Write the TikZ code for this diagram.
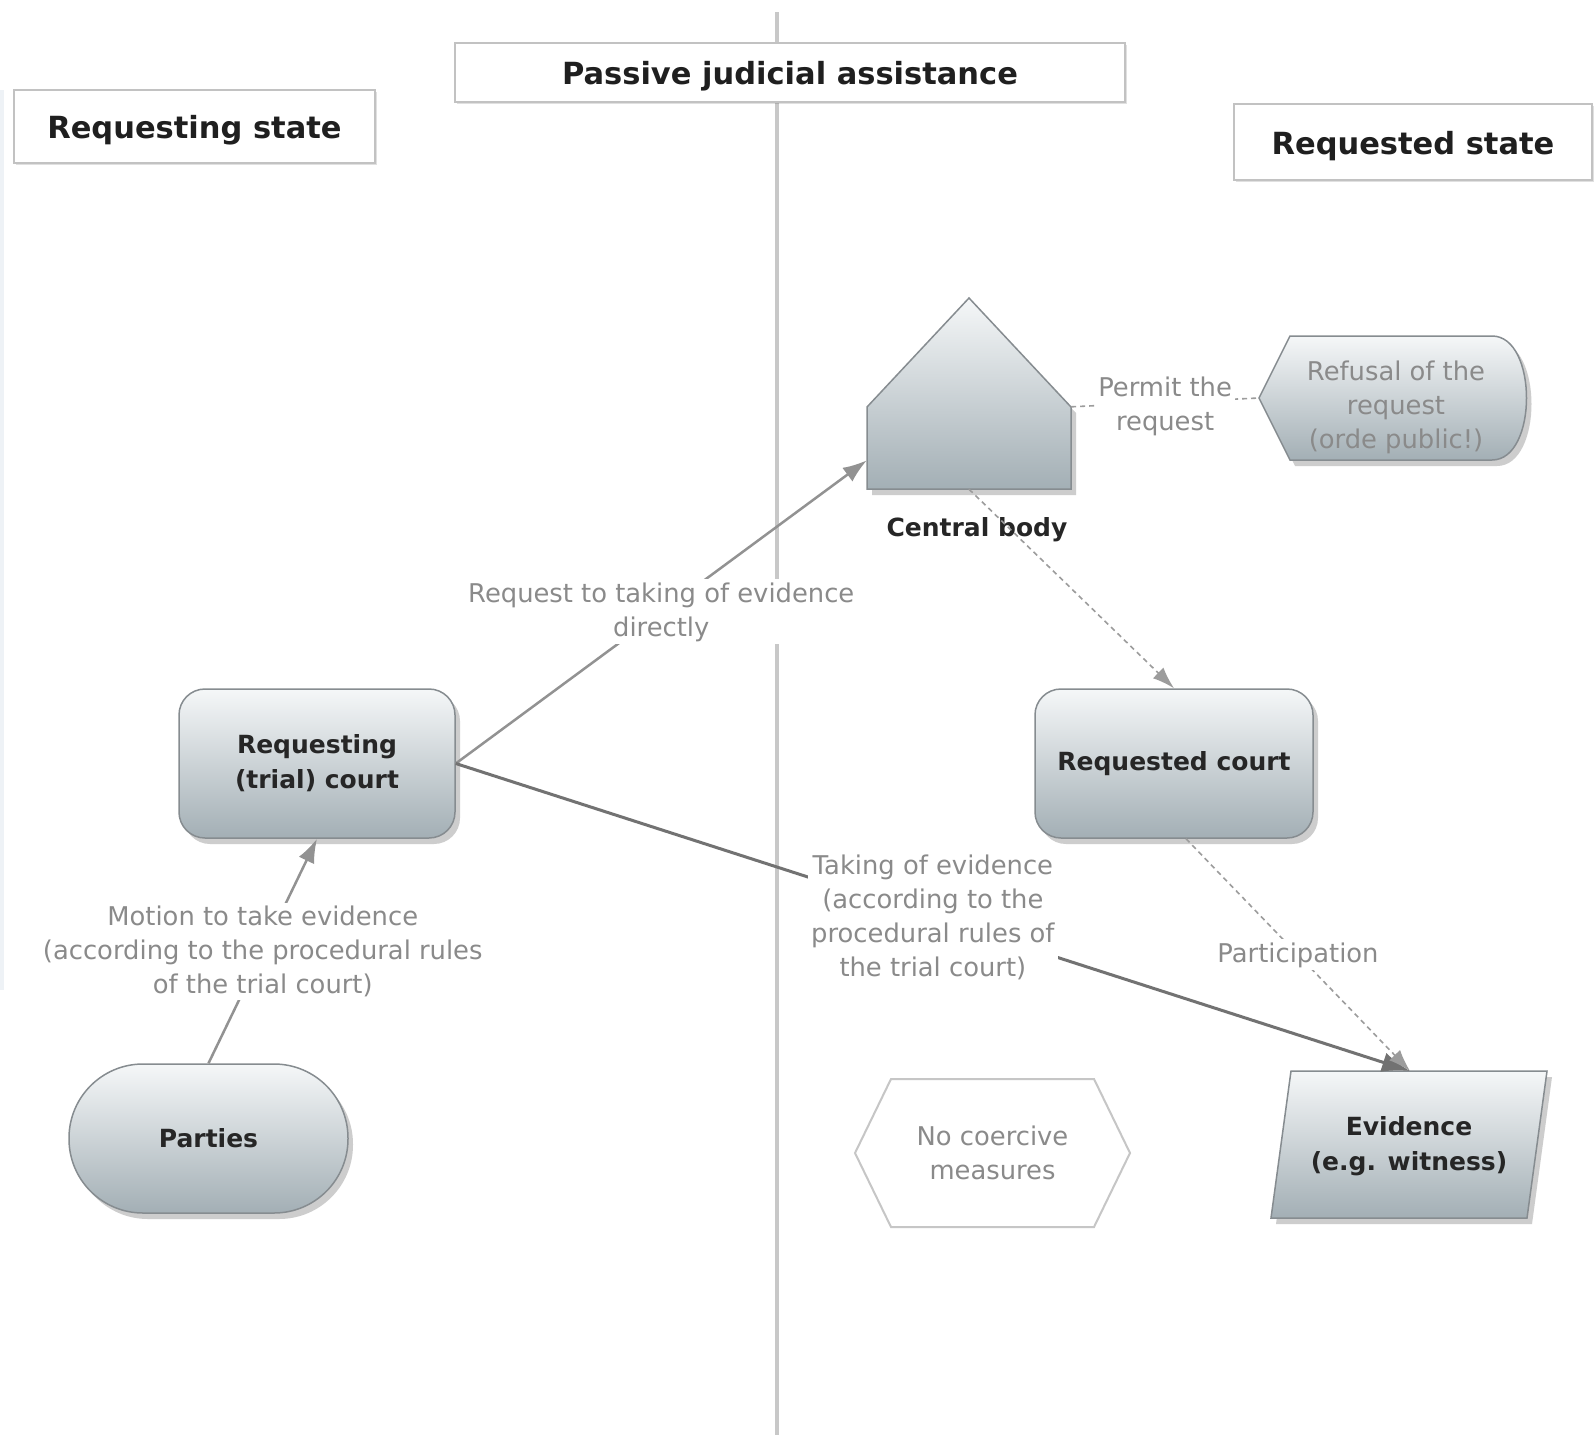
\documentclass[tikz,border=0pt]{standalone}
\usepackage{fontspec}
\setmainfont{DejaVu Sans}
\usetikzlibrary{arrows.meta,shadows,calc}
\definecolor{gTop}{HTML}{F5F7F8}
\definecolor{gBot}{HTML}{A3AFB5}
\definecolor{bordC}{HTML}{868C90}
\definecolor{hdrC}{HTML}{C2C2C2}
\definecolor{labC}{HTML}{8A8A8A}
\definecolor{lineC}{HTML}{929292}
\definecolor{darkC}{HTML}{727272}
\definecolor{dashC}{HTML}{9C9C9C}
\definecolor{divC}{HTML}{C8C8C8}
\definecolor{hexC}{HTML}{C6C6C6}
\definecolor{stripC}{HTML}{EEF2F6}
\newcommand{\lowr}[1]{\raisebox{-4pt}[\height][\depth]{#1}}
\tikzset{
  hdr/.style={draw=hdrC, line width=2.5pt, fill=white, inner sep=0pt, text=black!88,
    font=\fontsize{30.5}{38}\selectfont\bfseries,
    drop shadow={shadow xshift=2pt, shadow yshift=-2pt, opacity=0.12, fill=black}},
  gshade/.style={top color=gTop, bottom color=gBot, draw=bordC, line width=1.5pt,
    drop shadow={shadow xshift=5pt, shadow yshift=-6pt, opacity=0.28, fill=black!70}},
  nodelbl/.style={font=\fontsize{25}{35}\selectfont\bfseries, text=black!85, align=center, inner sep=0pt},
  greylbl/.style={font=\fontsize{25.8}{34}\selectfont, text=labC, align=center, inner sep=0pt},
  elbl/.style={greylbl, fill=white, inner sep=3pt},
  darr/.style={draw=lineC, line width=2.5pt, -{Latex[length=24pt,width=17pt]}},
  bigarr/.style={draw=darkC, line width=3pt, -{Latex[length=28pt,width=20pt]}},
  dsharr/.style={draw=dashC, line width=1.6pt, dash pattern=on 5pt off 4pt, -{Latex[length=22pt,width=15pt]}},
  dshline/.style={draw=dashC, line width=1.6pt, dash pattern=on 5pt off 4pt},
  divider/.style={draw=divC, line width=4pt},
}
\begin{document}
\begin{tikzpicture}[x=1pt,y=-1pt]
\useasboundingbox (0,0) rectangle (1596,1446);
\fill[white] (0,0) rectangle (1596,1446);
\fill[stripC] (0,90) rectangle (4,990);

% divider
\coordinate (vt) at (777,12);
\coordinate (vb) at (777,1435);
\draw[divider] (vt) -- (vb);

% headers
\node[hdr, minimum width=361pt, minimum height=73pt] (hL) at (194.5,126.5) {\lowr{Requesting state}};
\node[hdr, minimum width=670pt, minimum height=59pt] (hM) at (790,72.5) {\lowr{Passive judicial assistance}};
\node[hdr, minimum width=358pt, minimum height=76pt] (hR) at (1413,142) {\lowr{Requested state}};

% central body (house)
\coordinate (cbc) at (969,448);
\path[gshade] ($(cbc)+(-102,41)$) -- ($(cbc)+(-102,-41)$) -- ($(cbc)+(0,-150)$)
  -- ($(cbc)+(102,-41)$) -- ($(cbc)+(102,41)$) -- cycle;
\node[minimum width=204pt, minimum height=82pt, inner sep=0pt] (cb) at (cbc) {};
\node[nodelbl] (cbl) at (977,530) {Central body};

% refusal of the request
\coordinate (rfc) at (1396,398);
\path[gshade] ($(rfc)+(-137,0)$) -- ($(rfc)+(-106,-62)$) -- ($(rfc)+(96,-62)$)
  .. controls ($(rfc)+(142,-62)$) and ($(rfc)+(142,62)$) .. ($(rfc)+(96,62)$)
  -- ($(rfc)+(-106,62)$) -- cycle;
\node[greylbl] (rf) at ($(rfc)+(0,9)$) {Refusal of the\\request\\(orde public!)};
\coordinate (rfw) at ($(rfc)+(-137,0)$);

% requesting court, requested court, parties
\node[gshade, nodelbl, rounded corners=26pt, minimum width=276pt, minimum height=149pt]
  (rc) at (317,763.5) {Requesting\\(trial) court};
\node[gshade, nodelbl, rounded corners=26pt, minimum width=278pt, minimum height=149pt]
  (rq) at (1174,763.5) {Requested court};
\node[gshade, nodelbl, rounded corners=74pt, minimum width=279pt, minimum height=149pt]
  (pa) at (208.5,1138.5) {Parties};

% no coercive measures (hexagon)
\coordinate (ncc) at (992.5,1153);
\path[draw=hexC, line width=2pt, fill=white] ($(ncc)+(-137.5,0)$) -- ($(ncc)+(-101.5,-74)$)
  -- ($(ncc)+(101.5,-74)$) -- ($(ncc)+(137.5,0)$) -- ($(ncc)+(101.5,74)$)
  -- ($(ncc)+(-101.5,74)$) -- cycle;
\node[greylbl] (nc) at (ncc) {No coercive\\measures};

% evidence (parallelogram)
\coordinate (evc) at (1409,1144.5);
\path[gshade] ($(evc)+(-118,-73.5)$) -- ($(evc)+(138,-73.5)$) -- ($(evc)+(118,73.5)$)
  -- ($(evc)+(-138,73.5)$) -- cycle;
\node[nodelbl] (ev) at ($(evc)+(0,2)$) {Evidence\\(e.g. witness)};
\coordinate (evin) at ($(evc)+(1,-73.5)$);

% connectors
\coordinate (cbin) at ($(cb.south west)!0.35!(cb.north west)$);
\coordinate (rqout) at ($(rq.south)+(12,0)$);

\draw[darr] (pa.north) -- (rc.south)
  node[midway, elbl] {Motion to take evidence\\(according to the procedural rules\\of the trial court)};
\draw[darr] (rc.east) -- (cbin)
  node[midway, elbl] {Request to taking of evidence\\directly};
\draw[bigarr] (rc.east) -- (evin)
  node[midway, elbl] {Taking of evidence\\(according to the\\procedural rules of\\the trial court)};
\draw[dsharr] (cb.south) -- (rq.north);
\draw[dsharr] (rqout) -- (evin)
  node[midway, elbl] {Participation};
\draw[dshline] (cb.north east) -- (rfw)
  node[midway, elbl, yshift=-4pt] {Permit the\\request};
\end{tikzpicture}
\end{document}
